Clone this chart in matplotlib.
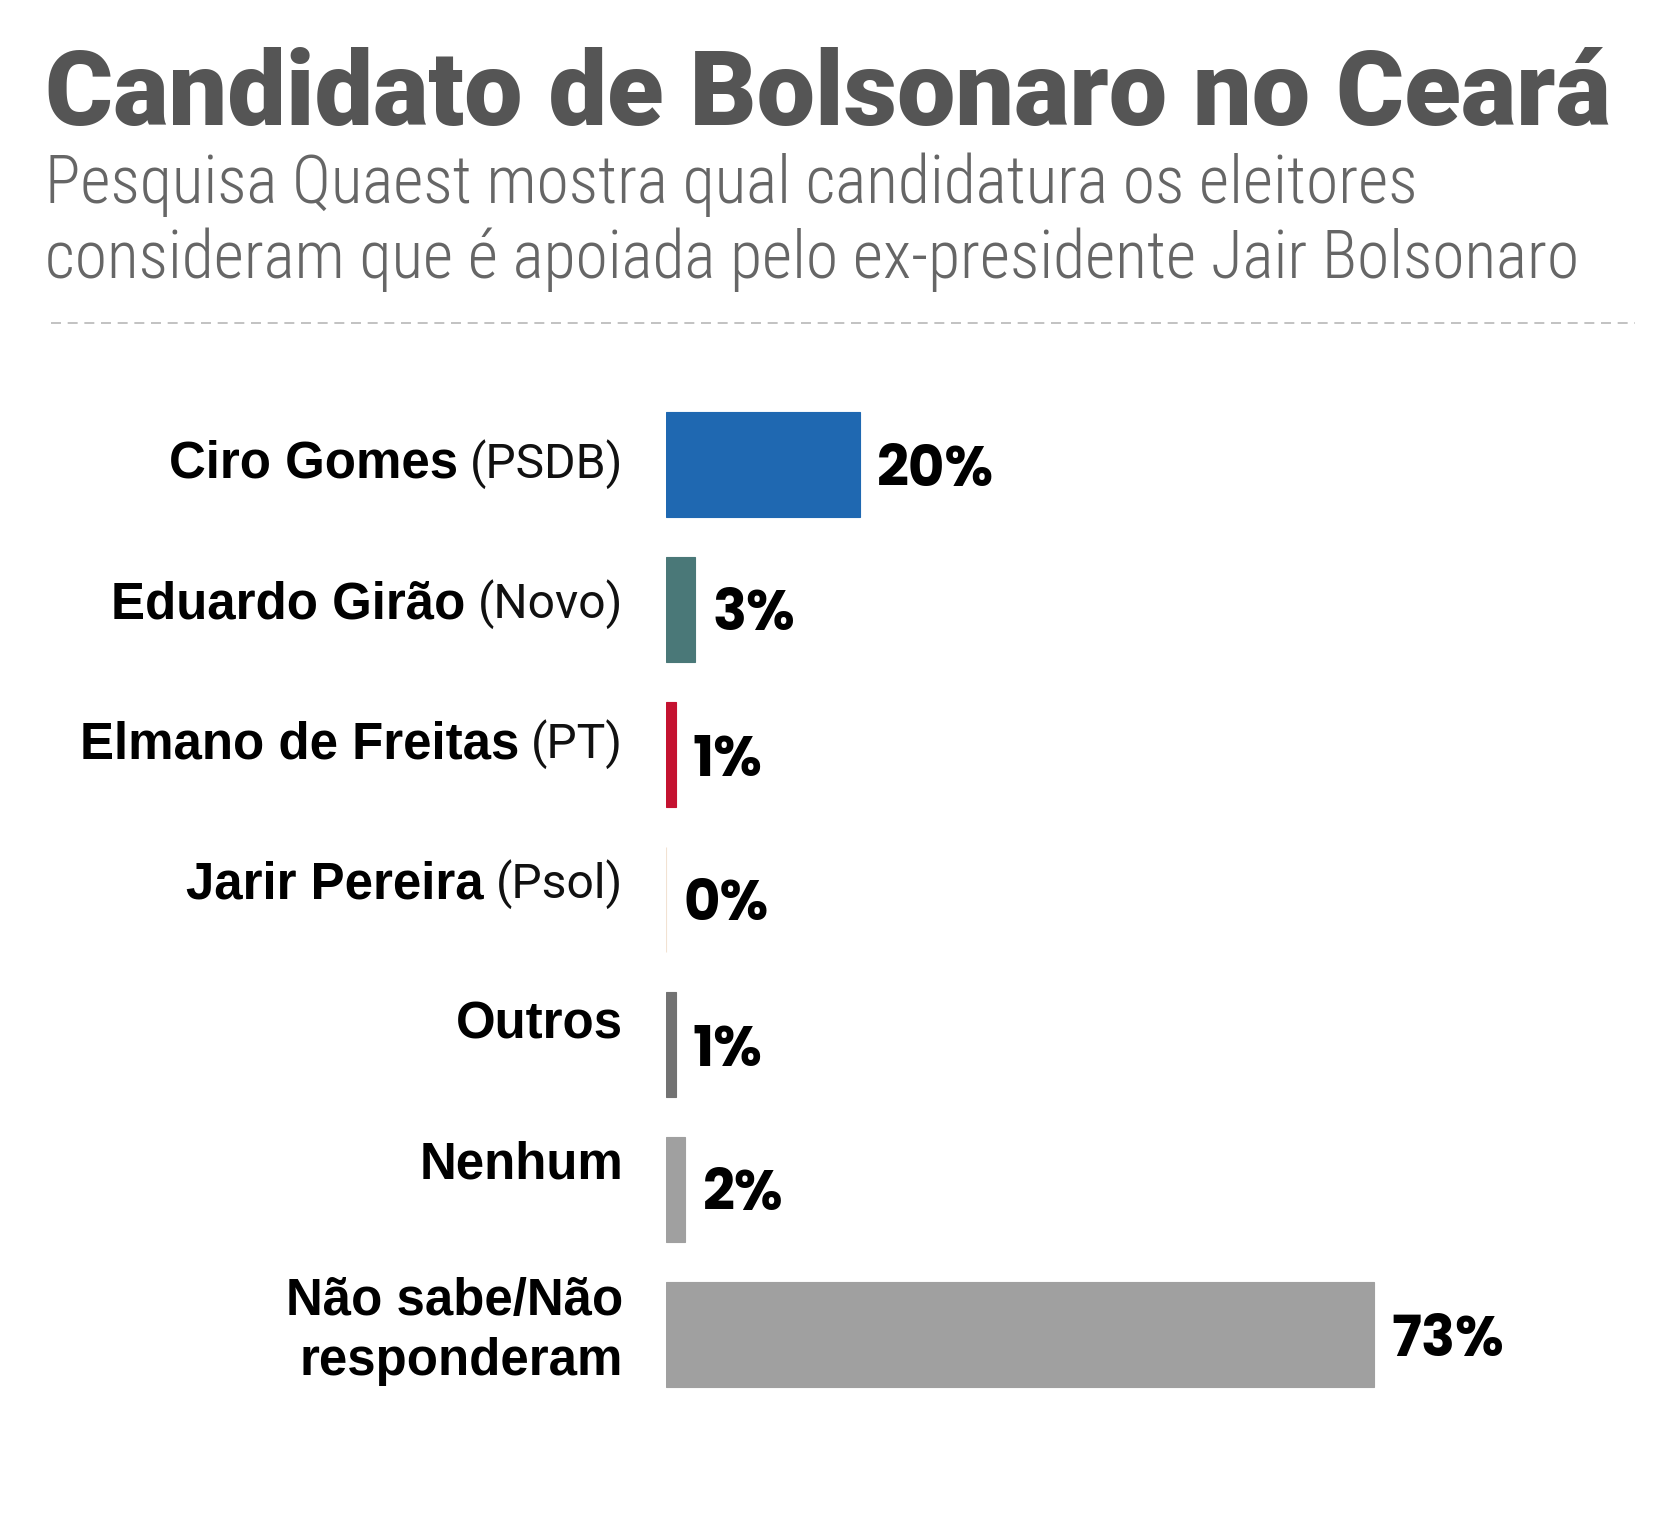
import matplotlib
matplotlib.use("Agg")
import matplotlib.pyplot as plt
from matplotlib.lines import Line2D
from matplotlib import transforms

W, H, DPI = 1667, 1517, 100
PT = 72 / DPI  # points per pixel

nomes = ["Ciro Gomes", "Eduardo Girão", "Elmano de Freitas", "Jarir Pereira",
         "Outros", "Nenhum", "Não sabe/Não\nresponderam"]
partidos = ["(PSDB)", "(Novo)", "(PT)", "(Psol)", "", "", ""]
valores = [20, 3, 1, 0, 1, 2, 73]
cores = ["#1f68b1", "#4a7878", "#c41230", "#f2e2d2", "#727272", "#a0a0a0", "#a0a0a0"]

titulo = "Candidato de Bolsonaro no Ceará"
subtitulo = ["Pesquisa Quaest mostra qual candidatura os eleitores",
             "consideram que é apoiada pelo ex-presidente Jair Bolsonaro"]


def fx(px):
    return px / W


def fy(py):
    return 1 - py / H


fig = plt.figure(figsize=(W / DPI, H / DPI), dpi=DPI)

fig.text(fx(45), fy(125), titulo, family="Roboto", weight="black",
         size=104 * PT, color="#555555", va="baseline")
for k, linha in enumerate(subtitulo):
    fig.text(fx(45), fy(203 + 75 * k), linha, family="Roboto Condensed", weight="light",
             size=65.6 * PT, color="#666666", va="baseline")
fig.add_artist(Line2D([fx(51), fx(1635)], [fy(323), fy(323)], color="#b8b8b8",
                      lw=1.2, ls=(0, (6, 4))))

# barras: 145 px por linha, zero em x=666, 9.7 px por ponto percentual
row = 145
top0 = 464.5 - row / 2
n = len(valores)
ax = fig.add_axes([fx(666), fy(top0 + row * n), fx(1636) - fx(666), row * n / H])
ax.set_xlim(0, 100)
ax.set_ylim(n - 0.5, -0.5)
ax.axis("off")

ax.barh(range(n), valores, height=105 / row, color=cores, edgecolor=cores, linewidth=0.8)

for i, v in enumerate(valores):
    ax.annotate(f"{v}%", xy=(v, i), xytext=(17 * PT, -21 * PT), textcoords="offset points",
                family="Poppins", weight="bold", size=56 * PT, color="#000000",
                ha="left", va="baseline")

blend = transforms.blended_transform_factory(fig.transFigure, ax.transData)
renderer = fig.canvas.get_renderer()
for i, (nome, partido) in enumerate(zip(nomes, partidos)):
    linhas = nome.split("\n")
    if len(linhas) == 1:
        bases = [13.5 - 4.9 * i]
    else:
        bases = [-20, 40]
    for linha, base in zip(linhas, bases):
        shift = 0
        if partido:
            t = ax.annotate(partido, xy=(fx(623), i), xycoords=blend, xytext=(0, -base * PT),
                            textcoords="offset points", family="Roboto", weight="normal",
                            size=48 * PT, color="#111111", ha="right", va="baseline")
            shift = t.get_window_extent(renderer).width + 12
        ax.annotate(linha, xy=(fx(623), i), xycoords=blend, xytext=(-shift * PT, -base * PT),
                    textcoords="offset points", family="Liberation Sans", weight="bold",
                    size=51 * PT, color="#000000", ha="right", va="baseline")

fig.savefig("out.png", dpi=DPI)
